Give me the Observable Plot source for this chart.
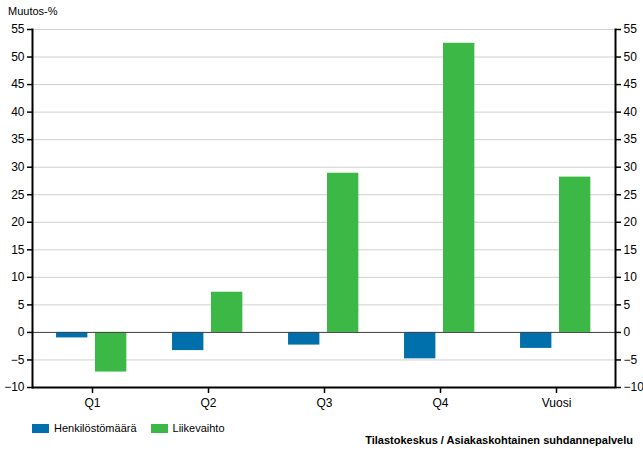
<!DOCTYPE html>
<html>
<head>
<meta charset="utf-8">
<script src="https://cdn.jsdelivr.net/npm/d3@7"></script>
<script src="https://cdn.jsdelivr.net/npm/@observablehq/plot@0.6"></script>
<style>
  body { margin: 0; background: #fff; font-family: "Liberation Sans", Arial, sans-serif; }
  #wrap { position: relative; width: 643px; height: 450px; }
  #title { position: absolute; left: 8px; top: 5px; font-size: 11px; color: #000; }
  #legend { position: absolute; left: 32px; top: 422px; font-size: 11px; display: flex; align-items: center; }
  .sw { display: inline-block; width: 17px; height: 9px; margin-right: 5px; }
  .item { display: flex; align-items: center; margin-right: 14px; }
  #source { position: absolute; right: 10px; top: 434px; font-size: 11px; font-weight: bold; }
</style>
</head>
<body>
<div id="wrap">
  <div id="chart"></div>
  <div id="title">Muutos-%</div>
  <div id="legend"></div>
  <div id="source">Tilastokeskus / Asiakaskohtainen suhdannepalvelu</div>
</div>
<script>
const categories = ["Q1", "Q2", "Q3", "Q4", "Vuosi"];
const henkilostomaara = [-1.0, -3.3, -2.3, -4.8, -2.9];
const liikevaihto = [-7.2, 7.3, 28.9, 52.5, 28.2];
const yTicks = [-10, -5, 0, 5, 10, 15, 20, 25, 30, 35, 40, 45, 50, 55];
const seriesNames = ["Henkilöstömäärä", "Liikevaihto"];
const colors = ["#0070ad", "#3bb846"];

const width = 643, height = 415;
const marginLeft = 32, marginRight = 28, marginTop = 29, marginBottom = 28;
const bw = (width - marginLeft - marginRight) / categories.length;

const dataA = categories.map((c, i) => ({cat: c, v: henkilostomaara[i]}));
const dataB = categories.map((c, i) => ({cat: c, v: liikevaihto[i]}));

const chart = Plot.plot({
  width, height, marginLeft, marginRight, marginTop, marginBottom,
  style: {fontFamily: "'Liberation Sans', Arial, sans-serif", fontSize: "12px", color: "#000", background: "#fff"},
  x: {domain: categories, padding: 0, label: null},
  y: {domain: [-10, 55], label: null},
  marks: [
    Plot.gridY(yTicks, {stroke: "#d0d0d0", strokeOpacity: 1, strokeWidth: 1}),
    Plot.barY(dataA, {x: "cat", y: "v", fill: colors[0], insetLeft: bw * 0.189, insetRight: bw * 0.537}),
    Plot.barY(dataB, {x: "cat", y: "v", fill: colors[1], insetLeft: bw * 0.523, insetRight: bw * 0.203}),
    Plot.ruleY([0], {stroke: "#444", strokeWidth: 1}),
    Plot.ruleY([-10], {stroke: "#000", strokeWidth: 2}),
    Plot.frame({anchor: "left", stroke: "#000", strokeWidth: 2}),
    Plot.frame({anchor: "right", stroke: "#000", strokeWidth: 2}),
    Plot.axisY(yTicks, {anchor: "left", tickSize: 5, tickPadding: 3, stroke: "#000", strokeWidth: 1.5, label: null}),
    Plot.axisY(yTicks, {anchor: "right", tickSize: 5, tickPadding: 3, stroke: "#000", strokeWidth: 1.5, label: null}),
    Plot.axisX({anchor: "bottom", tickSize: 6, tickPadding: 5, stroke: "#000", strokeWidth: 1.5, label: null})
  ]
});
document.getElementById("chart").appendChild(chart);

const legend = document.getElementById("legend");
seriesNames.forEach((n, i) => {
  const it = document.createElement("span");
  it.className = "item";
  const sw = document.createElement("span");
  sw.className = "sw";
  sw.style.background = colors[i];
  it.appendChild(sw);
  it.appendChild(document.createTextNode(n));
  legend.appendChild(it);
});
</script>
</body>
</html>
